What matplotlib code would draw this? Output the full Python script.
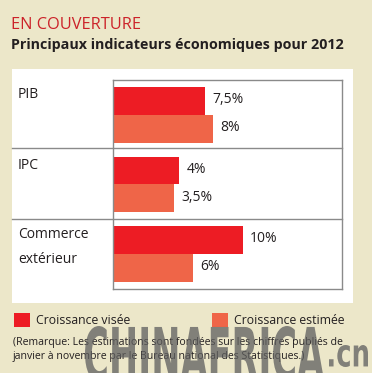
import numpy as np
import matplotlib.pyplot as plt
from matplotlib.patches import Rectangle, PathPatch
from matplotlib.lines import Line2D
from matplotlib.textpath import TextPath
from matplotlib.font_manager import FontProperties
from matplotlib.transforms import Affine2D

# données
categories = ['PIB', 'IPC', 'Commerce\nextérieur']
visee = [7.5, 4, 10]
estimee = [8, 3.5, 6]
# longueurs des barres telles que dessinées dans l'original (pas proportionnelles)
visee_len = [7.1, 5.1, 10.0]
estimee_len = [7.7, 4.7, 6.15]
labels_visee = ['7,5%', '4%', '10%']
labels_estimee = ['8%', '3,5%', '6%']

W, H = 372, 373
bg = '#ECE7C9'
red = '#ED1C24'
orange = '#EF6548'
dark = '#231F20'
font = ['Open Sans', 'DejaVu Sans']


def fx(x):
    return x / W


def fy(y):
    return 1 - y / H


fig = plt.figure(figsize=(W / 100, H / 100), dpi=100, facecolor=bg)

# panneau blanc
fig.patches.append(Rectangle((fx(12), fy(303)), fx(353) - fx(12), fy(69) - fy(303),
                             transform=fig.transFigure, facecolor='white',
                             edgecolor='none', zorder=-5))

fig.text(fx(11), fy(25), 'EN COUVERTURE', color='#CC2229', fontsize=11.8,
         family=font, va='center', ha='left')
fig.text(fx(11), fy(45), 'Principaux indicateurs économiques pour 2012',
         color=dark, fontsize=10.3, fontweight='bold', family=font,
         va='center', ha='left')

ax = fig.add_axes([fx(113), fy(289), fx(342) - fx(113), fy(80) - fy(289)])
ax.set_zorder(1)
ax.set_facecolor('white')
y = np.arange(len(categories))
ax.barh(y - 0.2, visee_len, height=0.4, color=red, zorder=2)
ax.barh(y + 0.2, estimee_len, height=0.4, color=orange, zorder=2)
ax.set_xlim(0, 17.6)
ax.set_ylim(2.5, -0.5)
ax.set_xticks([])
ax.set_yticks([])
for s in ax.spines.values():
    s.set_color('#8A8A8A')
    s.set_linewidth(1)

for i in range(len(categories)):
    ax.annotate(labels_visee[i], (visee_len[i], i - 0.2), xytext=(5, 1),
                textcoords='offset points', va='center', ha='left',
                fontsize=10, color=dark, family=font)
    ax.annotate(labels_estimee[i], (estimee_len[i], i + 0.2), xytext=(5, 1),
                textcoords='offset points', va='center', ha='left',
                fontsize=10, color=dark, family=font)

# lignes de séparation
for yy in (148, 219):
    fig.lines.append(Line2D([fx(12), fx(342)], [fy(yy), fy(yy)],
                            transform=fig.transFigure, color='#8A8A8A', lw=1,
                            zorder=3))

# libellés des catégories
cat_y = [95, 165, 227]
for c, yy in zip(categories, cat_y):
    fig.text(fx(18), fy(yy), c, fontsize=10, color=dark, family=font,
             va='top' if '\n' in c else 'center', ha='left', linespacing=1.95)

# légende
for x0, col, txt in ((14, red, 'Croissance visée'), (212, orange, 'Croissance estimée')):
    fig.patches.append(Rectangle((fx(x0), fy(327)), fx(16), fy(313) - fy(327),
                                 transform=fig.transFigure, facecolor=col,
                                 edgecolor='none'))
    fig.text(fx(x0 + 22), fy(320), txt, fontsize=8.8, color=dark, family=font,
             va='center', ha='left')

fig.text(fx(13), fy(343), '(Remarque: Les estimations sont fondées sur les chiffres publiés de',
         fontsize=7.6, color=dark, family=font, va='center', ha='left')
fig.text(fx(13), fy(357), 'janvier à novembre par le Bureau national des Statistiques.)',
         fontsize=7.6, color=dark, family=font, va='center', ha='left')


# filigrane, étiré en pixels
def watermark(txt, x0, x1, top, bottom):
    tp = TextPath((0, 0), txt, size=50,
                  prop=FontProperties(family='DejaVu Sans', weight='bold'))
    e = tp.get_extents()
    tr = (Affine2D().translate(-e.x0, -e.y0)
          .scale((x1 - x0) / e.width, (bottom - top) / e.height)
          .translate(x0, H - bottom))
    fig.patches.append(PathPatch(tp, transform=tr, facecolor='#5E5E5E',
                                 edgecolor='none', alpha=0.75, zorder=10))


watermark('CHINAFRICA', 85, 324, 326, 381)
watermark('.cn', 329, 368, 345, 367)

fig.savefig('out.png', dpi=100, facecolor=bg)
